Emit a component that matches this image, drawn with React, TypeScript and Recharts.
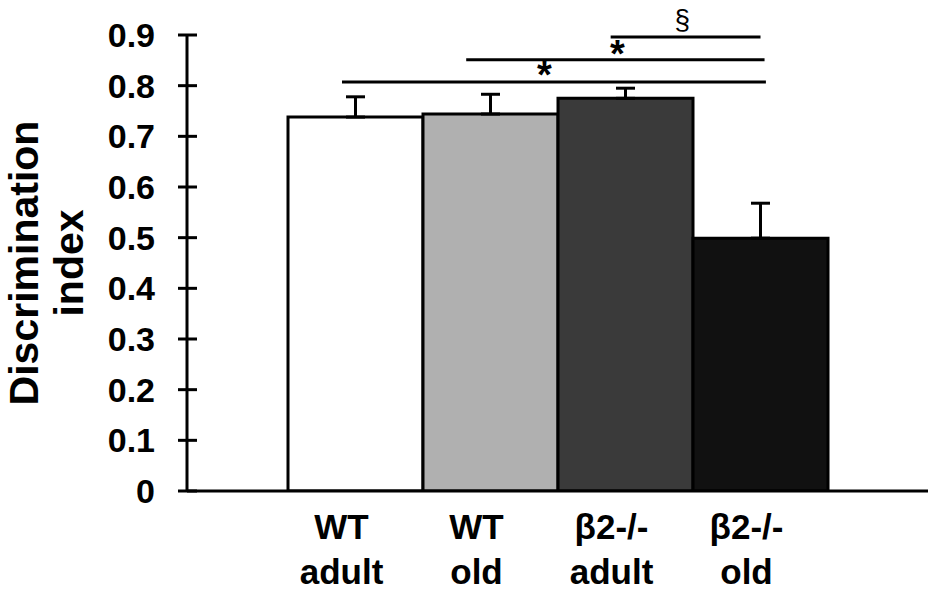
import React from 'react';
import { BarChart, Bar, XAxis, YAxis, ErrorBar, Cell, ReferenceLine, ReferenceDot } from 'recharts';

const groups = ['WT adult', 'WT old', 'β2-/- adult', 'β2-/- old'];
const means = [0.738, 0.744, 0.775, 0.499];
const sems = [0.04, 0.039, 0.02, 0.069];
const fills = ['#ffffff', '#b0b0b0', '#3a3a3a', '#111111'];
const yTicks = [0, 0.1, 0.2, 0.3, 0.4, 0.5, 0.6, 0.7, 0.8, 0.9];

// significance brackets, x in bar units (0..4 across the bars), y in data units
const bracketFrom = [0.4, 1.32, 2.39];
const bracketTo = [3.54, 3.53, 3.5];
const bracketLevel = [0.807, 0.851, 0.896];
const markX = [1.9, 2.44, 2.92];
const markY = [0.795, 0.837, 0.912];
const markText = ['*', '*', '§'];

const data = groups.map((g, i) => ({ name: g, slot: i + 0.5, mean: means[i], err: [0, sems[i]] }));

const FONT = '"Liberation Sans", Arial, sans-serif';

const XTick = (props: any) => {
    const { x, y, payload } = props;
    const label: string = payload.value;
    const cut = label.lastIndexOf(' ');
    const first = label.slice(0, cut);
    const second = label.slice(cut + 1);
    return (
        <text x={x - 14} y={y + 48} textAnchor="middle" fontFamily={FONT} fontWeight="bold" fontSize={35} fill="#000">
            <tspan x={x - 14}>{first}</tspan>
            <tspan x={x - 14} dy={45}>{second}</tspan>
        </text>
    );
};

const YTick = (props: any) => {
    const { x, y, payload } = props;
    const axisX = x + 32;
    const v: number = payload.value;
    return (
        <g>
            <line x1={axisX - 9} x2={axisX + 10} y1={y} y2={y} stroke="#000" strokeWidth={3} />
            <text x={x} y={y + 12} textAnchor="end" fontFamily={FONT} fontWeight="bold" fontSize={34} fill="#000">
                {v === 0 ? '0' : v.toFixed(1)}
            </text>
        </g>
    );
};

const YTitle = () => (
    <text
        x={38}
        y={263}
        transform="rotate(-90, 38, 263)"
        textAnchor="middle"
        fontFamily={FONT}
        fontWeight="bold"
        fontSize={41}
        fill="#000"
    >
        <tspan x={38}>Discrimination</tspan>
        <tspan x={38} dy={45}>index</tspan>
    </text>
);

const Mark = (text: string) => (props: any) => {
    const vb = props.viewBox || {};
    const cx = vb.x + (vb.width || 0) / 2;
    const cy = vb.y + (vb.height || 0) / 2;
    const isStar = text === '*';
    return (
        <text
            x={cx}
            y={cy}
            textAnchor="middle"
            fontFamily={FONT}
            fontWeight={isStar ? 'bold' : 'normal'}
            fontSize={isStar ? 38 : 28}
            fill="#000"
        >
            {text}
        </text>
    );
};

export default function App() {
    return (
        <div style={{ position: 'absolute', left: 0, top: 0, width: 933, height: 591, background: '#fff' }}>
            <BarChart
                width={933}
                height={591}
                data={data}
                margin={{ top: 35, right: 5, bottom: 0, left: 0 }}
                barCategoryGap={0}
                barGap={0}
            >
                <XAxis
                    dataKey="name"
                    height={100}
                    padding={{ left: 101, right: 100 }}
                    axisLine={{ stroke: '#000', strokeWidth: 3 }}
                    tickLine={false}
                    tickSize={0}
                    tickMargin={0}
                    tick={<XTick />}
                    interval={0}
                />
                <XAxis
                    xAxisId="sig"
                    dataKey="slot"
                    type="number"
                    domain={[0, 4]}
                    allowDataOverflow
                    padding={{ left: 101, right: 100 }}
                    hide
                />
                <YAxis
                    width={187}
                    domain={[0, 0.9]}
                    ticks={yTicks}
                    interval={0}
                    allowDataOverflow
                    axisLine={{ stroke: '#000', strokeWidth: 3 }}
                    tickLine={false}
                    tickSize={0}
                    tickMargin={32}
                    tick={<YTick />}
                    label={<YTitle />}
                />
                <Bar dataKey="mean" stroke="#000" strokeWidth={3} isAnimationActive={false}>
                    {data.map((d, i) => (
                        <Cell key={d.name} fill={fills[i]} />
                    ))}
                    <ErrorBar dataKey="err" width={9.5} stroke="#000" strokeWidth={3} direction="y" isAnimationActive={false} />
                </Bar>
                {bracketFrom.map((f, i) => (
                    <ReferenceLine
                        key={'b' + i}
                        xAxisId="sig"
                        segment={[
                            { x: f, y: bracketLevel[i] },
                            { x: bracketTo[i], y: bracketLevel[i] },
                        ]}
                        stroke="#000"
                        strokeWidth={3}
                        ifOverflow="visible"
                    />
                ))}
                {markX.map((mx, i) => (
                    <ReferenceDot
                        key={'m' + i}
                        xAxisId="sig"
                        x={mx}
                        y={markY[i]}
                        r={1}
                        fill="none"
                        stroke="none"
                        ifOverflow="visible"
                        label={Mark(markText[i])}
                    />
                ))}
            </BarChart>
        </div>
    );
}
